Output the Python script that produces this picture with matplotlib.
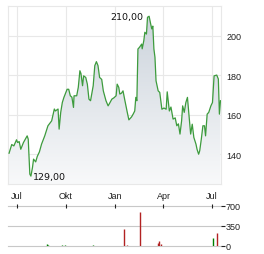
import numpy as np
import pandas as pd
import matplotlib
matplotlib.use("Agg")
import matplotlib.pyplot as plt
import matplotlib.dates as mdates
from matplotlib.colors import LinearSegmentedColormap

# ==============================
# DATA
# ==============================
price_dates = [
    "2023-06-16", "2023-06-21", "2023-06-25", "2023-06-30", "2023-07-02", "2023-07-05",
    "2023-07-08", "2023-07-13", "2023-07-20", "2023-07-22", "2023-07-25", "2023-07-27",
    "2023-07-30", "2023-08-01", "2023-08-05", "2023-08-08", "2023-08-12", "2023-08-16",
    "2023-08-22", "2023-08-28", "2023-09-04", "2023-09-09", "2023-09-11", "2023-09-16",
    "2023-09-18", "2023-09-21", "2023-09-24", "2023-09-27", "2023-10-03", "2023-10-06",
    "2023-10-09", "2023-10-12", "2023-10-15", "2023-10-16", "2023-10-21", "2023-10-24",
    "2023-10-27", "2023-10-29", "2023-11-01", "2023-11-03", "2023-11-07", "2023-11-10",
    "2023-11-13", "2023-11-16", "2023-11-21", "2023-11-24", "2023-11-27", "2023-11-30",
    "2023-12-03", "2023-12-07", "2023-12-10", "2023-12-15", "2023-12-19", "2023-12-22",
    "2023-12-26", "2023-12-30", "2024-01-03", "2024-01-05", "2024-01-08", "2024-01-10",
    "2024-01-13", "2024-01-16", "2024-01-19", "2024-01-24", "2024-01-27", "2024-02-01",
    "2024-02-04", "2024-02-07", "2024-02-09", "2024-02-11", "2024-02-13", "2024-02-16",
    "2024-02-20", "2024-02-21", "2024-02-24", "2024-02-26", "2024-02-29", "2024-03-02",
    "2024-03-05", "2024-03-08", "2024-03-10", "2024-03-12", "2024-03-14", "2024-03-16",
    "2024-03-18", "2024-03-22", "2024-03-25", "2024-03-29", "2024-04-02", "2024-04-06",
    "2024-04-08", "2024-04-12", "2024-04-15", "2024-04-19", "2024-04-23", "2024-04-26",
    "2024-04-29", "2024-05-02", "2024-05-05", "2024-05-07", "2024-05-10", "2024-05-13",
    "2024-05-16", "2024-05-19", "2024-05-22", "2024-05-25", "2024-05-28", "2024-06-01",
    "2024-06-03", "2024-06-06", "2024-06-08", "2024-06-11", "2024-06-14", "2024-06-17",
    "2024-06-19", "2024-06-22", "2024-06-25", "2024-06-29", "2024-07-02", "2024-07-05",
    "2024-07-10", "2024-07-13", "2024-07-15", "2024-07-17",
]
prices = [
    140.6, 145.0, 144.3, 147.4, 146.0, 146.5,
    142.6, 146.0, 149.4, 147.7, 130.0, 129.0,
    133.4, 137.6, 136.2, 139.0, 141.3, 145.2,
    149.4, 154.5, 157.0, 163.0, 162.0, 163.0,
    152.8, 161.3, 166.3, 168.9, 173.0, 173.0,
    169.7, 169.0, 163.8, 169.7, 169.7, 174.0,
    182.4, 181.0, 174.8, 179.8, 179.0, 175.6,
    168.0, 167.2, 174.8, 185.0, 187.0, 185.0,
    179.0, 178.0, 172.2, 167.2, 164.6, 166.0,
    168.0, 168.7, 169.7, 175.6, 174.0, 170.6,
    171.0, 172.2, 168.0, 161.3, 157.5, 159.0,
    160.4, 162.0, 168.9, 167.2, 193.4, 194.3,
    195.9, 193.5, 197.6, 201.9, 201.0, 209.5,
    210.0, 206.0, 203.6, 205.0, 193.4, 189.2,
    177.3, 172.2, 171.4, 162.9, 163.5, 162.9,
    171.7, 162.0, 164.0, 157.9, 158.5, 154.5,
    155.5, 150.3, 157.0, 164.6, 161.3, 166.3,
    168.9, 159.5, 150.3, 155.3, 148.6, 145.2,
    142.6, 140.1, 141.8, 147.7, 154.5, 154.5,
    149.4, 160.4, 161.3, 164.6, 166.3, 179.8,
    180.2, 178.2, 160.4, 167.2,
]

vol_dates = ["2023-08-26", "2023-08-28", "2023-09-24", "2023-09-29", "2023-11-21",
             "2024-01-18", "2024-01-24", "2024-02-17", "2024-03-21", "2024-03-24",
             "2024-03-28", "2024-07-03", "2024-07-11"]
volumes = [40, 25, 15, 12, 10, 290, 15, 590, 60, 90, 40, 140, 220]
vol_up = [True, True, True, True, True, False, False, False, False, False, False, True, False]

month_ticks = ["2023-07-01", "2023-10-01", "2024-01-01", "2024-04-01", "2024-07-01"]
month_labels = ["Jul", "Okt", "Jan", "Apr", "Jul"]
price_ticks = [140, 160, 180, 200]
vol_ticks = [0, 350, 700]

# ==============================
# PLOT
# ==============================
W, H = 264, 255
fig = plt.figure(figsize=(W / 100, H / 100), dpi=100)

def px_axes(x0, y0, x1, y1):
    return fig.add_axes([x0 / W, 1 - y1 / H, (x1 - x0) / W, (y1 - y0) / H])

x = pd.to_datetime(price_dates)
y = np.array(prices)
xlim = (pd.Timestamp("2023-06-14"), pd.Timestamp("2024-07-18"))
ylim = (125, 215.2)

ax = px_axes(8, 7, 221, 185)
ax.set_xlim(xlim)
ax.set_ylim(ylim)

# gradient fill under the line
cmap = LinearSegmentedColormap.from_list("fill", ["#f8f9fa", "#c9d1da"])
grad = ax.imshow(np.linspace(0, 1, 256).reshape(-1, 1), cmap=cmap, aspect="auto",
                 origin="lower", extent=[mdates.date2num(xlim[0]), mdates.date2num(xlim[1]),
                                         ylim[0], ylim[1]], zorder=1)
poly = ax.fill_between(x, y, ylim[0], color="none", lw=0)
grad.set_clip_path(poly.get_paths()[0], transform=ax.transData)
ax.plot(x, y, color="#3d9b3d", lw=0.9, zorder=3)

ax.set_xticks(pd.to_datetime(month_ticks))
ax.set_xticklabels(month_labels)
ax.set_yticks(price_ticks)
ax.yaxis.tick_right()
ax.grid(True, color="#e8e8e8", lw=0.8, zorder=0)
ax.set_axisbelow(True)
for s in ax.spines.values():
    s.set_color("#e8e8e8")
    s.set_linewidth(0.8)
ax.tick_params(length=0, labelsize=6.5, labelcolor="#222222", pad=4)
ax.tick_params(axis="x", pad=5)
for lab in ax.get_xticklabels() + ax.get_yticklabels():
    lab.set_family("Liberation Sans")

i_max = int(np.argmax(y))
i_min = int(np.argmin(y))
ax.annotate("210,00", (x[i_max], y[i_max]), xytext=(-4, 0), textcoords="offset points",
            ha="right", va="center", fontsize=6.8, color="#111111")
ax.annotate("129,00", (x[i_min], y[i_min]), xytext=(1.5, 0), textcoords="offset points",
            ha="left", va="center", fontsize=6.8, color="#111111")

# volume panel
vx = px_axes(8, 207, 221, 247)
vx.set_xlim(xlim)
vx.set_ylim(0, 700)
colors = ["#008000" if up else "#b22222" for up in vol_up]
vx.vlines(pd.to_datetime(vol_dates), 0, volumes, colors=colors, lw=1.0, zorder=3)
for v in vol_ticks:
    vx.axhline(v, color="#c8c8c8", lw=0.8, clip_on=False, zorder=1)
for s in vx.spines.values():
    s.set_visible(False)
vx.set_xticks(pd.to_datetime(month_ticks))
vx.set_xticklabels([])
vx.tick_params(axis="x", bottom=False, top=True, direction="inout", length=3,
               width=0.8, color="#222222")
vx.yaxis.tick_right()
vx.set_yticks(vol_ticks)
vx.tick_params(axis="y", length=3, width=0.8, color="#222222", labelsize=6.5,
               labelcolor="#222222", pad=0.5)
for lab in vx.get_yticklabels():
    lab.set_family("Liberation Sans")

fig.savefig("out.png", dpi=100)
